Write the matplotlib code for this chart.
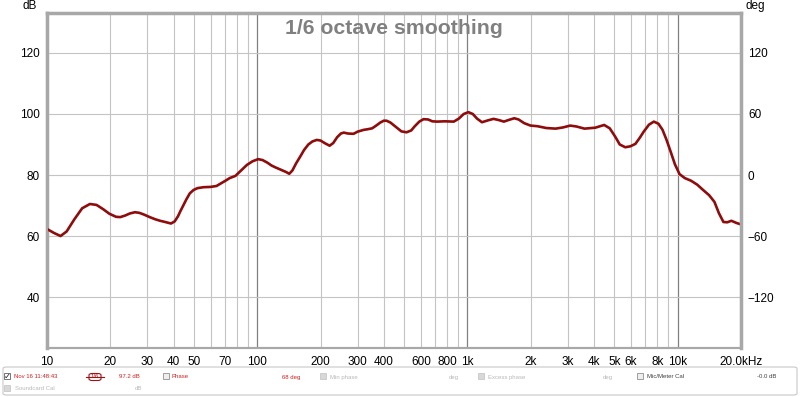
import matplotlib
matplotlib.use("Agg")
import matplotlib.pyplot as plt
from matplotlib.patches import FancyBboxPatch, Rectangle
from matplotlib.lines import Line2D

plt.rcParams['font.family'] = ['Liberation Sans', 'DejaVu Sans']

freq_hz = [10, 10.8, 11.6, 12.4, 13.5, 14.7, 16, 17.2, 18.5, 19.8, 21.3, 22.3,
           23.5, 24.8, 26.2, 27.5, 29, 30.8, 32.7, 34.5, 36, 38.9, 40.5, 42, 43,
           44.5, 46, 47.8, 49.8, 52, 55.5, 60, 64, 67, 70.5, 74, 78.7, 83, 89.3,
           95, 101, 106, 112, 117, 122, 131, 137, 142, 147, 153, 160, 167, 175,
           183, 192, 200, 210, 221, 230, 240, 250, 258, 270, 287, 300, 321, 335,
           352, 368, 385, 400, 412, 430, 460, 485, 513, 540, 560, 590, 618, 650,
           680, 716, 780, 861, 910, 960, 1010, 1060, 1110, 1172, 1250, 1330, 1410,
           1490, 1580, 1670, 1750, 1860, 1995, 2150, 2370, 2625, 2850, 3080, 3300,
           3600, 4050, 4470, 4750, 5040, 5300, 5630, 5950, 6290, 6600, 6890, 7300,
           7700, 8100, 8470, 8850, 9250, 9700, 10200, 10800, 11590, 12400, 13200,
           14100, 14950, 15700, 16500, 17200, 18000, 19000, 20000]
spl_db = [62.3, 61.0, 60.0, 61.5, 65.5, 69.1, 70.5, 70.2, 68.8, 67.3, 66.3, 66.2,
          66.7, 67.4, 67.8, 67.6, 67.0, 66.2, 65.5, 65.0, 64.7, 64.1, 64.8, 66.5, 68.0,
          70.0, 72.0, 74.0, 75.1, 75.7, 76.0, 76.1, 76.4, 77.2, 78.1, 79.0, 79.7, 81.2, 83.3,
          84.5, 85.2, 84.9, 84.0, 83.1, 82.5, 81.6, 81.0, 80.4, 81.5, 83.8, 86.0, 88.2, 90.0,
          91.0, 91.5, 91.3, 90.4, 89.6, 90.5, 92.4, 93.6, 93.9, 93.6, 93.5, 94.2, 94.8, 95.0,
          95.3, 96.2, 97.2, 97.8, 97.8, 97.2, 95.6, 94.3, 94.0, 94.6, 95.9, 97.5, 98.3, 98.2,
          97.6, 97.5, 97.6, 97.5, 98.5, 100.0, 100.6, 100.0, 98.5, 97.3, 97.9, 98.4, 98.0,
          97.5, 98.1, 98.6, 98.2, 97.0, 96.2, 96.0, 95.4, 95.2, 95.6, 96.2, 95.9,
          95.2, 95.5, 96.4, 95.3, 92.6, 90.0, 89.1, 89.4, 90.2, 92.2, 94.2, 96.5,
          97.5, 96.8, 94.8, 91.5, 87.7, 83.5, 80.3, 79.0, 78.1, 76.8, 75.1,
          73.4, 71.2, 67.5, 64.6, 64.5, 65.0, 64.3, 63.8]

db_ticks = [40, 60, 80, 100, 120]
deg_ticks = [-120, -60, 0, 60, 120]
x_ticks = [10, 20, 30, 40, 50, 70, 100, 200, 300, 400, 600, 800, 1000,
           2000, 3000, 4000, 5000, 6000, 8000, 10000, 20000]
x_labels = ['10', '20', '30', '40', '50', '70', '100', '200', '300', '400', '600',
            '800', '1k', '2k', '3k', '4k', '5k', '6k', '8k', '10k', '20.0kHz']

W, H = 800, 397


def px(x, y):
    return x / W, 1 - y / H


fig = plt.figure(figsize=(8, 3.97), dpi=100)
ax = fig.add_axes([47 / W, 1 - 348 / H, (741 - 47) / W, (348 - 13) / H])

ax.set_xscale('log')
ax.set_xlim(10, 20000)
ax.set_ylim(23.3, 133.1)

# grid: decades darker, rest light
minor = [m * d for d in (10, 100, 1000, 10000) for m in range(2, 10) if m * d < 20000]
for f in minor:
    ax.axvline(f, color='#c4c4c4', lw=0.8, zorder=1)
for f in (100, 1000, 10000):
    ax.axvline(f, color='#808080', lw=0.9, zorder=1)
for v in db_ticks:
    ax.axhline(v, color='#c4c4c4', lw=0.8, zorder=1)

ax.plot(freq_hz, spl_db, color='#8e0c0c', lw=1.9, zorder=3,
        solid_joinstyle='round')

ax.set_xticks(x_ticks)
ax.set_xticklabels(x_labels)
ax.xaxis.set_minor_locator(matplotlib.ticker.NullLocator())
ax.set_yticks(db_ticks)
ax.tick_params(axis='both', length=0, labelsize=8.5, colors='black')
ax.tick_params(axis='x', pad=6)
ax.tick_params(axis='y', pad=5)

ax2 = ax.twinx()
ax2.set_ylim((23.3 - 80) * 3, (133.1 - 80) * 3)
ax2.set_yticks(deg_ticks)
ax2.tick_params(axis='y', length=0, labelsize=8.5, pad=5)

for a in (ax, ax2):
    for s in a.spines.values():
        s.set_color('#a8a8a8')
        s.set_linewidth(1.5)
ax.spines['left'].set_linewidth(2.5)
ax.spines['top'].set_linewidth(2.5)
ax2.spines['right'].set_linewidth(2.5)

ax.text(0.5, 0.982, '1/6 octave smoothing', transform=ax.transAxes, ha='center',
        va='top', fontsize=15.3, fontweight='bold', color='#808080', zorder=4)

fig.text(*px(37, 6), 'dB', ha='right', va='center', fontsize=8.5)
fig.text(*px(745, 6), 'deg', ha='left', va='center', fontsize=8.5)

# legend panel at the bottom
panel = FancyBboxPatch(px(3, 395), (797 - 3) / W, (395 - 367) / H,
                       boxstyle='round,pad=0,rounding_size=0.004',
                       transform=fig.transFigure, fc='white', ec='#c8c8c8', lw=0.8)
fig.patches.append(panel)


def checkbox(x, y, checked=False, ec='#a0a0a0', fc='#d8d8d8'):
    r = Rectangle(px(x, y + 3), 6 / W, 6 / H, transform=fig.transFigure,
                  fc='white' if checked else fc, ec=ec, lw=0.6)
    fig.patches.append(r)
    if checked:
        fig.text(*px(x + 3.2, y + 0.3), '\u2713', ha='center', va='center',
                 fontsize=6, color='#202020', family=['DejaVu Sans'])


small = dict(fontsize=4.3, va='center')
red = '#cc2020'
gray = '#b8b8b8'

checkbox(4, 376, checked=True, ec='#606060')
fig.text(*px(14, 377), 'Nov 16 11:48:43', color=red, **small)
fig.lines.append(Line2D([px(86, 377)[0], px(104, 377)[0]], [px(86, 377)[1]] * 2,
                        transform=fig.transFigure, color='#a01010', lw=0.8))
sym = FancyBboxPatch(px(89, 380.5), 12 / W, 7 / H,
                     boxstyle='round,pad=0,rounding_size=0.004',
                     transform=fig.transFigure, fc='white', ec='#a01010', lw=0.8)
fig.patches.append(sym)
fig.text(*px(95, 377), '1/6', ha='center', color='#a01010', **small)
fig.text(*px(119, 377), '97.2 dB', color=red, **small)
checkbox(163, 376, ec='#909090', fc='#eeeeee')
fig.text(*px(172, 377), 'Phase', color=red, **small)
fig.text(*px(282, 377), '68 deg', color=red, **small)
checkbox(320, 376, ec='#c8c8c8', fc='#d8d8d8')
fig.text(*px(330, 377), 'Min phase', color=gray, **small)
fig.text(*px(449, 377), 'deg', color=gray, **small)
checkbox(478, 376, ec='#c8c8c8', fc='#d8d8d8')
fig.text(*px(488, 377), 'Excess phase', color=gray, **small)
fig.text(*px(603, 377), 'deg', color=gray, **small)
checkbox(637, 376, ec='#909090', fc='#eeeeee')
fig.text(*px(647, 377), 'Mic/Meter Cal', color='#404040', **small)
fig.text(*px(757, 377), '-0.0 dB', color='#404040', **small)
checkbox(4, 388, ec='#c8c8c8', fc='#d8d8d8')
fig.text(*px(15, 389), 'Soundcard Cal', color=gray, **small)
fig.text(*px(135, 389), 'dB', color=gray, **small)

fig.savefig('out.png', dpi=100)
